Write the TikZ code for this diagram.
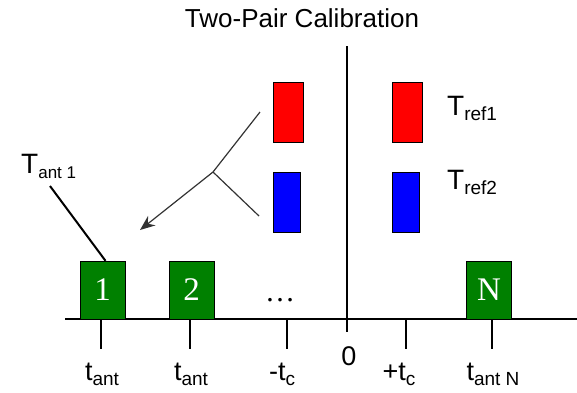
\documentclass[tikz,border=0pt]{standalone}
\usepackage{amsmath}
\usepackage{fontspec}
\setmainfont{Liberation Sans}
\newfontfamily\serifnum{Liberation Serif}
\usetikzlibrary{arrows.meta, positioning}
\definecolor{antgreen}{RGB}{0,128,0}
\definecolor{refred}{RGB}{255,0,0}
\definecolor{refblue}{RGB}{0,0,255}
\newcommand{\lowsub}[3]{#2\raisebox{-5pt}{\fontsize{#1}{#1}\selectfont #3}}

\begin{document}
\begin{tikzpicture}[x=1pt, y=-1pt,
    ant/.style={rectangle, draw, fill=antgreen, minimum width=45pt, minimum height=58pt, inner sep=0pt, text=white, font=\fontsize{33}{33}\selectfont\serifnum},
    ref/.style={rectangle, draw, minimum width=30pt, minimum height=60pt, inner sep=0pt},
    axisline/.style={line width=2pt},
    lbl/.style={inner sep=0pt, anchor=base, font=\fontsize{27}{27}\selectfont},
    tlbl/.style={inner sep=0pt, anchor=base west, font=\fontsize{28}{28}\selectfont},
    branch/.style={line width=1.2pt, black!80},
    arr/.style={-{Stealth[length=15pt, width=12pt]}, line width=1.2pt, black!80},
]
\useasboundingbox (0,0) rectangle (577,392);

\node[inner sep=0pt, anchor=base, font=\fontsize{26}{26}\selectfont] (title) at (302,27) {Two-Pair Calibration};

% axes
\coordinate (axl) at (65,319);
\coordinate (axr) at (577,319);
\coordinate (vtop) at (347,46);
\coordinate (vbot) at (347,332);
\draw[axisline] (axl) -- (axr);
\draw[axisline] (vtop) -- (vbot);
\foreach \tx in {101,190,287,406,492}
  \draw[axisline] (\tx,319) -- (\tx,349);

% antennas
\node[ant] (ant1) at (102.5,290) {1};
\node[ant] (ant2) at (191.5,290) {2};
\node[ant] (antN) at (489,290) {N};
\node[inner sep=0pt, anchor=base, font=\fontsize{30}{30}\selectfont\serifnum] (dots) at (280,301) {\dots};

% reference pairs
\node[ref, fill=refred] (redL) at (288,112) {};
\node[ref, fill=refblue, minimum width=27pt] (blueL) at (286.5,202) {};
\node[ref, fill=refred] (redR) at (407,112) {};
\node[ref, fill=refblue, minimum width=27pt] (blueR) at (405.5,202) {};
\node[tlbl] (tref1) at (447,115) {\lowsub{19}{T}{ref1}};
\node[tlbl] (tref2) at (447,189) {\lowsub{19}{T}{ref2}};

% combining arrow
\coordinate (fork) at (213,172);
\coordinate (ftop) at (260,112);
\coordinate (fbot) at (259,216);
\coordinate (ftip) at (140,230);
\draw[branch] (fork) -- (ftop);
\draw[branch] (fork) -- (fbot);
\draw[arr] (fork) -- (ftip);

% antenna 1 label
\node[tlbl] (tant1) at (21,173) {\lowsub{17}{T}{ant 1}};
\coordinate (tant1end) at (50,186);
\draw[line width=2pt] (tant1end) -- ([xshift=3pt]ant1.north);

% time labels
\node[lbl] (t1) at (102,380) {\lowsub{19}{t}{ant}};
\node[lbl] (t2) at (191,380) {\lowsub{19}{t}{ant}};
\node[lbl] (tmc) at (282,380) {-\lowsub{19}{t}{c}};
\node[lbl] (zero) at (349,365) {0};
\node[lbl] (tpc) at (399,380) {+\lowsub{19}{t}{c}};
\node[lbl] (tN) at (493,380) {\lowsub{19}{t}{ant N}};
\end{tikzpicture}
\end{document}
